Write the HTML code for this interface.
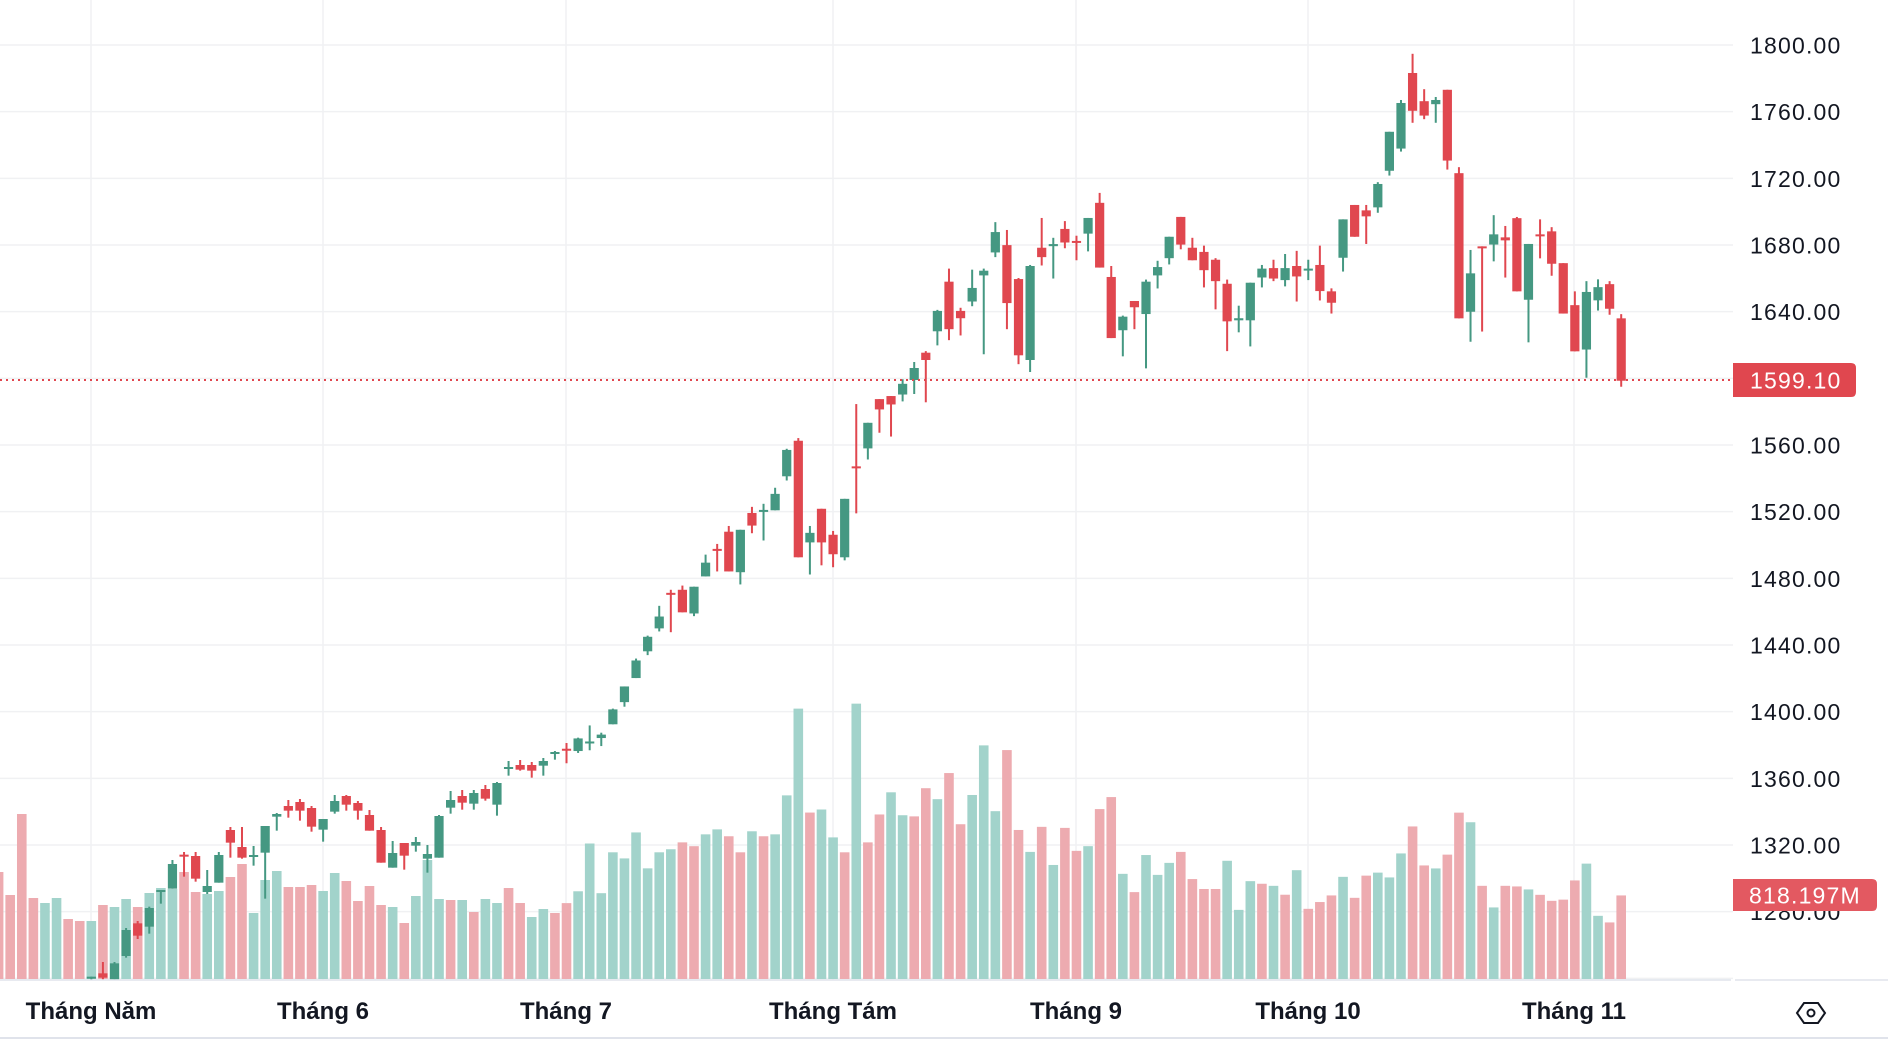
<!DOCTYPE html>
<html><head><meta charset="utf-8">
<style>
html,body{margin:0;padding:0;background:#fff;width:1888px;height:1040px;overflow:hidden}
svg{display:block}
text{font-family:"Liberation Sans",sans-serif}
</style></head><body>
<svg id="c" width="1888" height="1040" xmlns="http://www.w3.org/2000/svg"></svg>
<script>
var NS="http://www.w3.org/2000/svg",S=document.getElementById('c');
function el(t,a,txt){var e=document.createElementNS(NS,t);for(var k in a)e.setAttribute(k,a[k]);if(txt!=null)e.textContent=txt;S.appendChild(e);return e;}
var G="#459882",R="#e0474f",VG="#a2d3cb",VR="#edabb0";
function py(p){return 45+(1800-p)*1.6667;}
for(var p=1240;p<=1800;p+=40){var y=py(p);el('line',{x1:0,x2:1733,y1:y,y2:y,stroke:'#f0f1f3','stroke-width':1.5});}
var months=[[91,"Tháng Năm"],[323,"Tháng 6"],[566,"Tháng 7"],[833,"Tháng Tám"],[1076,"Tháng 9"],[1308,"Tháng 10"],[1574,"Tháng 11"]];
months.forEach(function(m){el('line',{x1:m[0],x2:m[0],y1:0,y2:980,stroke:'#f0f1f3','stroke-width':1.5});});
function X(i){return -1.4+11.59*i;}
var vols=[
 [0,560,3,"rrrrggrrgrggrgggrrggrrgggrrrggrrrrgrgggrgrggrrgg",
  [936,1005,762,1014,1029,1014,1077,1083,1083,1035,1041,1017,1041,999,984,987,936,996,1002,993,951,912,1059,960,933,981,981,975,993,939,963,1023,978,1035,1041,1089,1008,900,1017,1020,1020,1056,1017,1029,984,1029,1071,1047,1059]],
 [49,380,2.617,"rgggggggggrrggrrgrgggrggrgrrggr",
  [1369,1338,1213,1343,1236,1252,1184,1278,1236,1228,1210,1220,1189,1176,1194,1236,1181,1194,1189,1087,860,1132,1124,1197,1236,847,1210,1137,1079,1139,1142]],
 [80,160,1.915,"rgrrgggrrgrgrrgrrgrgggrrrrgggrgrgr",
  [1203,1224,1174,1272,1216,1121,1247,1130,1283,1325,1277,1350,1279,1323,1314,1243,1220,1367,1402,1331,1369,1346,1325,1377,1396,1396,1342,1436,1381,1386,1390,1407,1360,1434,1421]],
 [115,40,1.667,"rgrrgggrrgrrgrgrrgrrrrggrr",
  [1426,1395,1430,1393,1388,1396,1356,1311,1376,1381,1358,1288,1304,1410,1446,1410,1411,1416,1425,1435,1433,1401,1373,1460,1471,1426]]
];
vols.forEach(function(v){for(var k=0;k<v[4].length;k++){var i=v[0]+k,t=v[1]+v[4][k]/v[2],x=X(i);
 el('rect',{x:x-4.8,y:t,width:9.6,height:Math.max(0,979-t),fill:v[3][k]=='g'?VG:VR});}});
var cs=[
 [8,560,3,[
 "g",1250,1256,1250,1260,"r",1240,1253,1206,1258,"g",1210,1258,1206,1258,"g",1110,1188,1104,1193,"r",1090,1127,1083,1137,
 "g",1044,1100,1040,1121,"g",990,996,990,1031,"g",912,986,900,986,"r",884,890,876,950,"r",888,956,876,965,
 "g",978,996,930,1002,"g",885,968,876,968,"r",810,848,801,893,"r",861,893,801,896,"g",885,890,858,917,
 "g",798,878,798,1016,"g",762,770,759,812,"r",738,752,720,773,"r",726,752,717,782,"r",744,800,738,815,
 "g",777,809,777,845,"g",723,755,705,761,"r",708,734,705,752,"r",729,752,723,779,"r",765,812,750,812,
 "r",810,908,801,908,"g",879,923,843,923,"r",849,887,849,929,"g",846,857,831,875,"g",882,896,855,938,
 "g",768,893,765,893,"g",720,743,693,761,"r",708,728,690,749,"g",699,731,690,749,"r",687,716,675,722,
 "g",669,734,666,767,"g",621,626,603,647,"r",615,629,600,632,"r",615,632,606,653,"g",603,617,594,647,"g",576,581,573,599]],
 [49,380,2.617,[
 "r",965,969,950,1003,"g",938,971,936,976,"g",946,950,904,969,"g",928,937,923,958,"g",862,901,860,901,
 "g",802,843,802,855,"g",734,780,729,780,"g",672,710,669,720,"g",619,650,591,658,"r",557,561,549,660,
 "r",549,608,538,608,"g",541,611,541,618,"g",478,514,457,514,"r",442,446,429,501,"r",397,501,382,501,
 "g",392,503,392,535,"r",348,381,332,401,"g",340,344,324,420,"g",298,341,282,341,"g",183,252,180,263,
 "r",159,464,152,464,"g",400,425,382,509,"r",337,425,337,485,"r",405,456,395,490,"g",311,464,311,472,
 "r",226,229,63,349,"g",112,179,112,208,"r",50,77,50,138,"r",42,64,42,148,"g",10,38,-2,56]],
 [79,0,1,["g",368,380,362,394]],
 [80,160,1.915,[
 "r",369,383,366,464,"g",289,328,287,355,"r",233,324,208,345,"r",289,303,283,336,"g",245,271,210,280,
 "g",212,221,208,372,"g",138,177,119,186,"r",163,274,134,324,"r",228,374,226,391,"g",203,383,201,406,
 "r",168,186,111,202,"g",161,165,149,227,"r",132,158,117,169,"r",155,158,145,192,"g",111,141,111,175,
 "r",82,206,63,206,"r",224,341,203,341,"g",300,326,298,376,"r",270,282,270,324,"g",233,295,229,399,
 "g",205,221,193,246,"g",147,188,147,200,"r",109,162,109,171,"r",168,192,149,192,"r",176,211,164,244,
 "r",191,232,188,286,"r",237,309,229,366,"g",303,307,279,330,"g",235,307,235,357,"g",208,225,201,244,
 "r",207,227,191,232,"g",207,230,180,242,"r",203,223,174,271,"g",208,211,191,230,"r",201,251,164,269]],
 [115,40,1.667,[
 "r",419,438,414,456,"g",299,363,299,386,"r",275,328,275,328,"r",284,294,275,340,"g",240,279,237,288,
 "g",153,218,153,226,"g",105,181,100,186,"r",55,118,23,138,"r",102,126,82,132,"g",100,107,95,138,
 "r",83,201,83,216,"r",222,464,212,464,"g",389,453,350,503,"r",344,347,344,486,"g",324,341,292,369,
 "r",329,334,310,396,"r",297,419,295,419,"g",340,433,340,504,"r",324,327,299,364,"r",319,373,312,393,
 "r",372,456,372,456,"r",442,519,419,519,"g",420,516,402,563,"g",412,434,399,451,"r",407,448,402,458,"r",464,568,457,578]]
];
cs.forEach(function(c){var d=c[3];for(var k=0;k*5<d.length;k++){var i=c[0]+k,x=X(i),col=d[k*5]=='g'?G:R;
 var f=function(z){return c[1]+z/c[2];};
 var bt=f(d[k*5+1]),bb=f(d[k*5+2]),wt=f(d[k*5+3]),wb=f(d[k*5+4]);
 el('rect',{x:x-1,y:wt,width:2,height:Math.max(1,wb-wt),fill:col});
 el('rect',{x:x-4.6,y:bt,width:9.2,height:Math.max(2,bb-bt),fill:col});}});
el('line',{x1:0,x2:1733,y1:380,y2:380,stroke:R,'stroke-width':2,'stroke-dasharray':'2 4'});
el('rect',{x:1733,y:0,width:155,height:1040,fill:'#fff'});
el('line',{x1:0,x2:1731,y1:980,y2:980,stroke:'#e0e3eb','stroke-width':1.5});
el('line',{x1:1735,x2:1888,y1:980,y2:980,stroke:'#e0e3eb','stroke-width':1.5});
el('line',{x1:0,x2:1888,y1:1038,y2:1038,stroke:'#e0e3eb','stroke-width':2});
for(var p=1280;p<=1800;p+=40){el('text',{x:1750,y:py(p)+8.5,'font-size':23,fill:'#131722','letter-spacing':'1.2'},p.toFixed(2));}
el('path',{d:'M1733 363 H1851 Q1856 363 1856 368 V392 Q1856 397 1851 397 H1733 Z',fill:R});
el('text',{x:1750,y:388.5,'font-size':23,fill:'#fff','letter-spacing':'1.2'},'1599.10');
el('path',{d:'M1733 879 H1872 Q1877 879 1877 884 V906 Q1877 911 1872 911 H1733 Z',fill:'#e35961'});
el('text',{x:1749,y:903.5,'font-size':23,fill:'#fff','letter-spacing':'1.2'},'818.197M');
months.forEach(function(m){el('text',{x:m[0],y:1019,'font-size':24,'font-weight':'bold',fill:'#131722','text-anchor':'middle'},m[1]);});
el('path',{d:'M1797 1013 L1804 1003 H1818 L1825 1013 L1818 1023 H1804 Z',fill:'none',stroke:'#131722','stroke-width':2});
el('circle',{cx:1811,cy:1013,r:3.5,fill:'none',stroke:'#131722','stroke-width':2});
</script>
</body></html>
